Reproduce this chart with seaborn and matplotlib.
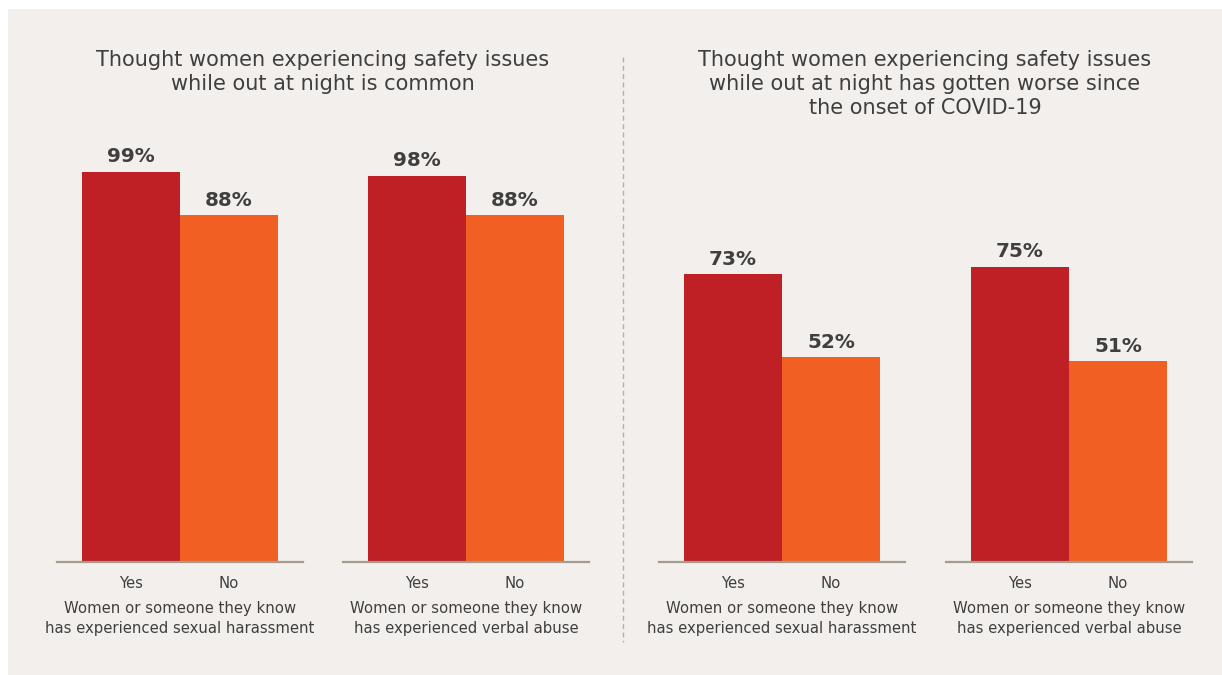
import matplotlib
matplotlib.use("Agg")
import matplotlib.pyplot as plt
import seaborn as sns
import pandas as pd
from matplotlib.lines import Line2D
from matplotlib.patches import Rectangle

# ---- data ----
answers = ["Yes", "No"]
panel_titles = [
    "Thought women experiencing safety issues\nwhile out at night is common",
    "Thought women experiencing safety issues\nwhile out at night has gotten worse since\nthe onset of COVID-19",
]
group_labels = [
    "Women or someone they know\nhas experienced sexual harassment",
    "Women or someone they know\nhas experienced verbal abuse",
]
common_harassment = [99, 88]
common_verbal = [98, 88]
worse_harassment = [73, 52]
worse_verbal = [75, 51]

# ---- style ----
sns.set_theme(style="white")
FONT = ["DejaVu Sans"]
plt.rcParams["font.family"] = FONT

W, H = 1222, 675
DPI = 100
BG = "#F2EFEC"
TEXT = "#3F3F3F"
BAR_COLORS = {"Yes": "#BE2026", "No": "#F15F22"}
BASE_COLOR = "#A89B8E"

fig = plt.figure(figsize=(W / DPI, H / DPI), dpi=DPI, facecolor="white")
fig.add_artist(Rectangle((8 / W, 0), 1 - 8 / W, 1 - 9 / H,
                         transform=fig.transFigure, facecolor=BG,
                         edgecolor="none", zorder=-10))
renderer = fig.canvas.get_renderer()


def fit_size(text, target_px, weight="normal"):
    """Font size (pt) at which `text` is target_px wide."""
    t = fig.text(0, 0, text, fontsize=10, fontweight=weight)
    w = t.get_window_extent(renderer=renderer).width
    t.remove()
    return 10 * target_px / w


TITLE_SIZE = fit_size("Thought women experiencing safety issues", 454)
LABEL_SIZE = fit_size("has experienced sexual harassment", 268)
VALUE_SIZE = fit_size("99%", 48, weight="bold")


def add_group(left_px, values, label):
    """One Yes/No pair of bars sitting on its own baseline."""
    base_px, top_px = 562, 168          # y of 0% and 100% (pixels from top)
    width_px = 246
    ax = fig.add_axes([left_px / W, (H - base_px) / H,
                       width_px / W, (base_px - top_px) / H])
    ax.set_facecolor("none")
    df = pd.DataFrame({"answer": answers, "value": values})
    sns.barplot(data=df, x="answer", y="value", hue="answer",
                palette=BAR_COLORS, width=1.0, legend=False,
                saturation=1, linewidth=0, edgecolor="none", ax=ax)
    ax.set_xlim(-0.755, 1.755)
    ax.set_ylim(0, 100)
    for sp in ["top", "left", "right"]:
        ax.spines[sp].set_visible(False)
    ax.spines["bottom"].set_color(BASE_COLOR)
    ax.spines["bottom"].set_linewidth(1.6)
    ax.spines["bottom"].set_zorder(5)
    ax.set_yticks([])
    ax.set_ylabel("")
    ax.tick_params(axis="x", length=0, pad=10, labelsize=LABEL_SIZE,
                   labelcolor=TEXT)
    ax.set_xlabel(label, fontsize=LABEL_SIZE, color=TEXT, labelpad=7,
                  linespacing=1.45)
    for patch, v in zip(ax.patches, values):
        ax.annotate(f"{v}%", (patch.get_x() + patch.get_width() / 2, v),
                    xytext=(0, 4), textcoords="offset points",
                    ha="center", va="bottom", fontsize=VALUE_SIZE,
                    fontweight="bold", color=TEXT)
    return ax


add_group(57, common_harassment, group_labels[0])
add_group(343, common_verbal, group_labels[1])
add_group(659, worse_harassment, group_labels[0])
add_group(946, worse_verbal, group_labels[1])

# panel titles
fig.text(323 / W, 1 - 50 / H, panel_titles[0], ha="center", va="top",
         fontsize=TITLE_SIZE, color=TEXT, linespacing=1.25)
fig.text(925 / W, 1 - 50 / H, panel_titles[1], ha="center", va="top",
         fontsize=TITLE_SIZE, color=TEXT, linespacing=1.25)

# dashed divider between the two panels
fig.add_artist(Line2D([623 / W, 623 / W], [1 - 57 / H, 1 - 642 / H],
                      transform=fig.transFigure, color="#BBAEA1",
                      linewidth=1.0, linestyle=(0, (3.5, 2.5))))

fig.savefig("out.png", dpi=DPI, facecolor=fig.get_facecolor())
